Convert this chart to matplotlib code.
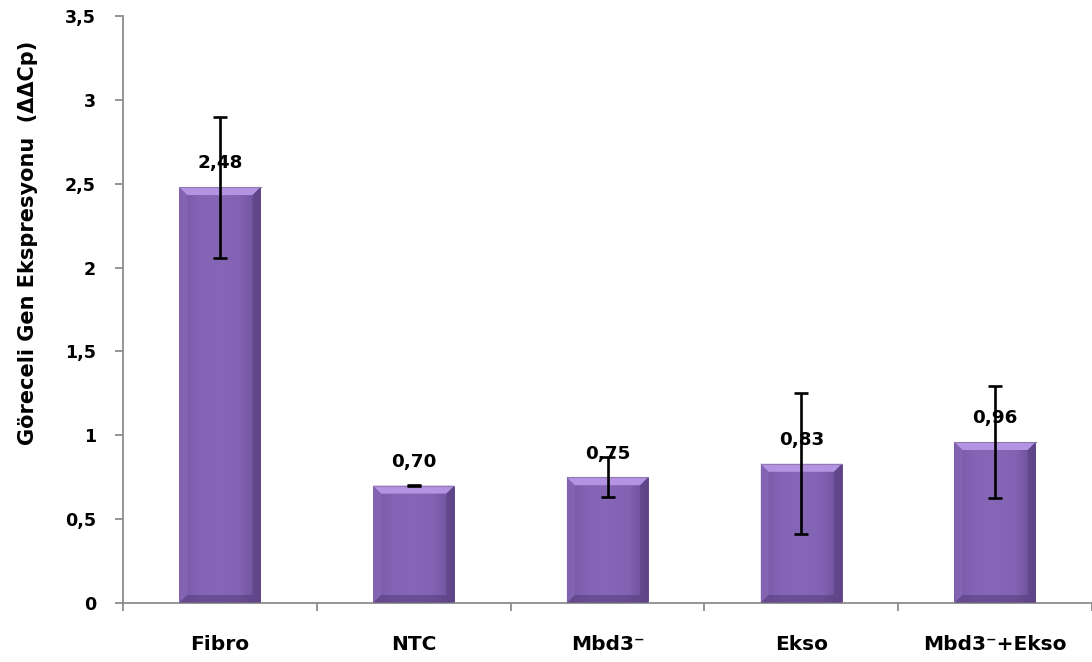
import numpy as np
import matplotlib
matplotlib.use("Agg")
import matplotlib.pyplot as plt
from matplotlib.colors import LinearSegmentedColormap
from matplotlib.patches import Polygon

plt.rcParams['font.family'] = ['DejaVu Sans']
WEIGHT = "bold"

categories = ["Fibro", "NTC", "Mbd3\u207b", "Ekso", "Mbd3\u207b+Ekso"]
values = [2.48, 0.70, 0.75, 0.83, 0.96]
errors = [0.42, 0.005, 0.12, 0.42, 0.335]
value_labels = ["2,48", "0,70", "0,75", "0,83", "0,96"]
y_ticks = [0, 0.5, 1, 1.5, 2, 2.5, 3, 3.5]
y_tick_labels = ["0", "0,5", "1", "1,5", "2", "2,5", "3", "3,5"]

W, H = 1092, 662
fig = plt.figure(figsize=(W / 100, H / 100), dpi=100)
ax = fig.add_axes([123 / W, 59 / H, (1092 - 123) / W, (603 - 16) / H])

x = np.arange(len(categories))
bar_w = 0.42
bars = ax.bar(x, values, width=bar_w, color="none", edgecolor="none", zorder=2)

ax.set_xlim(-0.5, len(categories) - 0.5)
ax.set_ylim(0, 3.5)

# bevelled fill for each bar
body = LinearSegmentedColormap.from_list(
    "body", ["#7758a6", "#8464b5", "#8666b7", "#8262b2", "#6a4e96"])
px_x = len(categories) / (1092 - 123)   # data units per pixel (x)
px_y = 3.5 / (603 - 16)                  # data units per pixel (y)
bev = 8
for b in bars:
    x0, w, h = b.get_x(), b.get_width(), b.get_height()
    grad = np.linspace(0, 1, 200)[None, :]
    im = ax.imshow(grad, cmap=body, aspect="auto",
                   extent=[x0, x0 + w, 0, h], zorder=2, interpolation="bicubic")
    im.set_clip_path(b)
    bx, by = bev * px_x, bev * px_y
    # top bevel (highlight)
    ax.add_patch(Polygon([[x0, h], [x0 + w, h], [x0 + w - bx, h - by], [x0 + bx, h - by]],
                         closed=True, facecolor="#b393e2", edgecolor="none", zorder=3))
    # left bevel
    ax.add_patch(Polygon([[x0, h], [x0 + bx, h - by], [x0 + bx, by], [x0, 0]],
                         closed=True, facecolor="#9070c0", edgecolor="none", zorder=3, alpha=0.45))
    # right bevel (shadow)
    ax.add_patch(Polygon([[x0 + w, h], [x0 + w - bx, h - by], [x0 + w - bx, by], [x0 + w, 0]],
                         closed=True, facecolor="#553d7c", edgecolor="none", zorder=3, alpha=0.55))
    # bottom bevel
    ax.add_patch(Polygon([[x0, 0], [x0 + bx, by], [x0 + w - bx, by], [x0 + w, 0]],
                         closed=True, facecolor="#4f3975", edgecolor="none", zorder=3, alpha=0.5))
    ax.plot([x0, x0 + w], [h, h], color="#8f7bb0", lw=0.8, zorder=3)

ax.errorbar(x, values, yerr=errors, fmt="none", ecolor="black",
            elinewidth=1.9, capsize=4.8, capthick=1.9, zorder=5)

for xi, v, lab in zip(x, values, value_labels):
    ax.annotate(lab, (xi, v), xytext=(0, 10.5), textcoords="offset points",
                ha="center", va="bottom", fontsize=13.2, fontweight=WEIGHT, zorder=6)

ax.set_yticks(y_ticks)
ax.set_yticklabels(y_tick_labels)
ax.set_xticks(x)
ax.set_xticklabels(categories)
ax.set_xticks(np.arange(-0.5, len(categories)), minor=True)
ax.tick_params(axis="x", which="major", length=0, pad=23, labelsize=14.5)
ax.tick_params(axis="x", which="minor", length=6, color="#8c8c8c", width=1.3)
ax.tick_params(axis="y", length=6, color="#8c8c8c", width=1.3, labelsize=12.6, pad=13.5)
for t in ax.get_xticklabels() + ax.get_yticklabels():
    t.set_fontweight(WEIGHT)

for s in ["top", "right"]:
    ax.spines[s].set_visible(False)
for s in ["left", "bottom"]:
    ax.spines[s].set_color("#8c8c8c")
    ax.spines[s].set_linewidth(1.3)

ax.set_ylabel("Göreceli Gen Ekspresyonu  (\u0394\u0394Cp)", fontsize=15,
              fontweight=WEIGHT)
ax.yaxis.set_label_coords(-0.088, 0.613)

fig.savefig("out.png", dpi=100)
